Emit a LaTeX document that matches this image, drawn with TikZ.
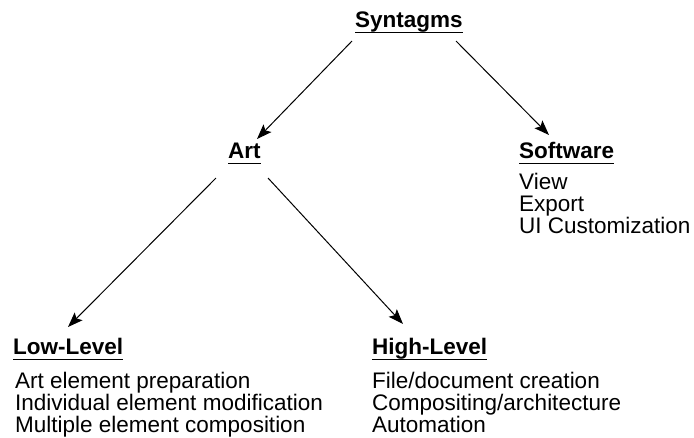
\documentclass[tikz,border=0pt]{standalone}
\usepackage{fontspec}
\setmainfont{Liberation Sans}
\usetikzlibrary{arrows.meta}
\begin{document}
\begin{tikzpicture}[x=1pt,y=-1pt,
  head/.style={anchor=base west,inner sep=0pt,font=\fontsize{22.5}{22}\selectfont\bfseries},
  body/.style={anchor=base west,inner sep=0pt,align=left,font=\fontsize{22.5}{22}\selectfont},
  uline/.style={line width=1.6pt},
  conn/.style={line width=1pt,-{Stealth[length=15pt,width=11pt,inset=3pt]}}]
\useasboundingbox (0,0) rectangle (694,437);
% headings
\node[head] (syn) at (355,27) {Syntagms};
\node[head] (art) at (228,158) {Art};
\node[head] (sw) at (519,158) {Software};
\node[head] (low) at (13,354) {Low-Level};
\node[head] (high) at (372,354) {High-Level};
% underlines
\foreach \n in {syn,art,sw,low,high}
  \draw[uline] ([yshift=-5.5pt]\n.base west) -- ([yshift=-5.5pt]\n.base east);
% bodies (base anchor = last line)
\node[body] (swb) at (519,233) {View\\Export\\UI Customization};
\node[body] (lowb) at (15,432) {Art element preparation\\Individual element modification\\Multiple element composition};
\node[body] (highb) at (372,432) {File/document creation\\Compositing/architecture\\Automation};
% connector end points
\coordinate (s1) at (352,41);
\coordinate (s2) at (456,41);
\coordinate (e1) at (257,139);
\coordinate (e2) at (549,135);
\coordinate (a1) at (216,178);
\coordinate (a2) at (268,178);
\coordinate (e3) at (68,327);
\coordinate (e4) at (403,324);
\draw[conn] (s1) -- (e1);
\draw[conn] (s2) -- (e2);
\draw[conn] (a1) -- (e3);
\draw[conn] (a2) -- (e4);
\end{tikzpicture}
\end{document}
